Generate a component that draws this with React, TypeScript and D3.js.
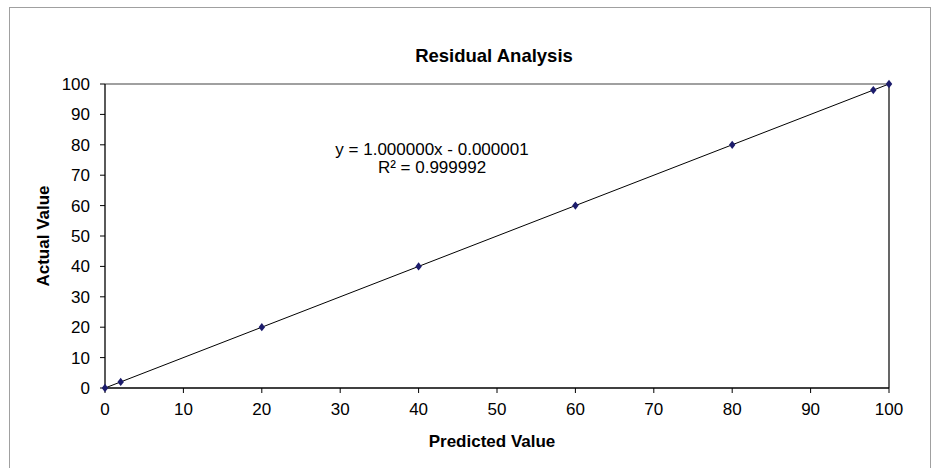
import React from "react";
import * as d3 from "d3";

const predicted = [0, 2, 20, 40, 60, 80, 98, 100];
const actual = [0, 2, 20, 40, 60, 80, 98, 100];
const ticks = [0, 10, 20, 30, 40, 50, 60, 70, 80, 90, 100];
const trendSlope = 1.0;
const trendIntercept = -0.000001;

export default function App() {
  const width = 937;
  const height = 468;
  const left = 105;
  const right = 889;
  const top = 84;
  const bottom = 388;
  const font = "'Liberation Sans', Arial, sans-serif";

  const x = d3.scaleLinear().domain([0, 100]).range([left, right]);
  const y = d3.scaleLinear().domain([0, 100]).range([bottom, top]);

  const points = predicted.map((p, i) => ({ p, a: actual[i] }));
  const diamond = d3.symbol().type(d3.symbolDiamond).size(20)() as string;

  return (
    <svg
      width={width}
      height={height}
      style={{ position: "absolute", left: 0, top: 0, background: "#fff" }}
    >
      <rect x={9.5} y={7.5} width={921} height={470} fill="#fff" stroke="#a0a0a0" />

      <text x={494} y={62} textAnchor="middle" fontFamily={font} fontSize={18.5} fontWeight="bold">
        Residual Analysis
      </text>

      {/* plot frame */}
      <line x1={left} x2={right} y1={top} y2={top} stroke="#808080" strokeWidth={1.3} />
      <line x1={right} x2={right} y1={top} y2={bottom} stroke="#000" strokeWidth={1.2} />
      <line x1={left} x2={left} y1={top} y2={bottom} stroke="#000" strokeWidth={1.3} />
      <line x1={left} x2={right} y1={bottom} y2={bottom} stroke="#000" strokeWidth={1.3} />

      {ticks.map((t) => (
        <g key={"y" + t}>
          <line x1={left - 5} x2={left} y1={y(t)} y2={y(t)} stroke="#000" />
          <text x={90} y={y(t) + 6} textAnchor="end" fontFamily={font} fontSize={17}>
            {t}
          </text>
        </g>
      ))}
      {ticks.map((t) => (
        <g key={"x" + t}>
          <line x1={x(t)} x2={x(t)} y1={bottom} y2={bottom + 5} stroke="#000" />
          <text x={x(t)} y={bottom + 27} textAnchor="middle" fontFamily={font} fontSize={17}>
            {t}
          </text>
        </g>
      ))}

      <line
        x1={x(0)}
        y1={y(trendSlope * 0 + trendIntercept)}
        x2={x(100)}
        y2={y(trendSlope * 100 + trendIntercept)}
        stroke="#000"
        strokeWidth={1}
      />

      {points.map((d, i) => (
        <path
          key={i}
          d={diamond}
          transform={`translate(${x(d.p)},${y(d.a)}) scale(1.35,1)`}
          fill="#1c1c6c"
        />
      ))}

      <text x={432} y={155} textAnchor="middle" fontFamily={font} fontSize={17}>
        y = 1.000000x - 0.000001
      </text>
      <text x={432} y={173} textAnchor="middle" fontFamily={font} fontSize={17}>
        R² = 0.999992
      </text>

      <text
        transform={`translate(49,${(top + bottom) / 2}) rotate(-90)`}
        textAnchor="middle"
        fontFamily={font}
        fontSize={17}
        fontWeight="bold"
      >
        Actual Value
      </text>
      <text x={492} y={447} textAnchor="middle" fontFamily={font} fontSize={17} fontWeight="bold">
        Predicted Value
      </text>
    </svg>
  );
}
